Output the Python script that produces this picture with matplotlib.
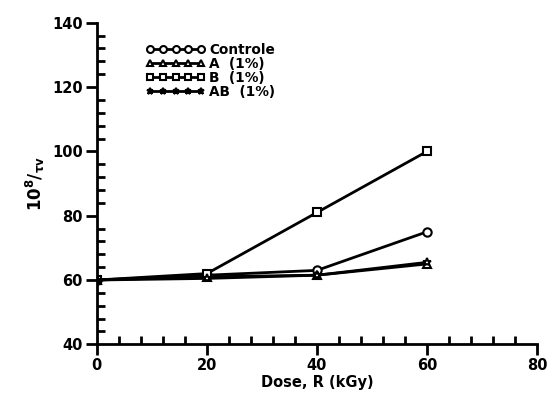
import numpy as np
import matplotlib.pyplot as plt
from matplotlib.ticker import MultipleLocator

plt.rcParams['font.family'] = ['DejaVu Sans']
plt.rcParams['font.weight'] = 'bold'

dose = [0, 20, 40, 60]
controle = [60, 61.5, 63, 75]
amostra_a = [60, 61, 61.5, 65]
amostra_b = [60, 62, 81, 100]
amostra_ab = [60, 60.5, 61.5, 65.5]

series = [
    ("Controle", controle, "o"),
    ("A  (1%)", amostra_a, "^"),
    ("B  (1%)", amostra_b, "s"),
    ("AB  (1%)", amostra_ab, "*"),
]

fig = plt.figure(figsize=(5.47, 3.99), dpi=100)
ax = fig.add_axes([0.177, 0.137, 0.805, 0.806])

for nome, vals, mk in series:
    ax.plot(dose, vals, color="black", lw=2, marker=mk, markersize=6,
            markerfacecolor="white", markeredgecolor="black", markeredgewidth=1.5,
            label=nome)

ax.set_xlim(0, 80)
ax.set_ylim(40, 140)
ax.xaxis.set_major_locator(MultipleLocator(20))
ax.xaxis.set_minor_locator(MultipleLocator(4))
ax.yaxis.set_major_locator(MultipleLocator(20))
ax.yaxis.set_minor_locator(MultipleLocator(4))

ax.spines['top'].set_visible(False)
ax.spines['right'].set_visible(False)
ax.spines['left'].set_linewidth(2)
ax.spines['bottom'].set_linewidth(2)

ax.tick_params(which='major', direction='out', length=8, width=2, labelsize=10.5, pad=2)
ax.tick_params(which='minor', direction='in', length=6, width=2)
for lab in ax.get_xticklabels() + ax.get_yticklabels():
    lab.set_fontweight('bold')

ax.set_xlabel("Dose, R (kGy)", fontsize=10.5, fontweight='bold', labelpad=1)
ax.set_ylabel(r"$\mathbf{10^{8}/_{\tau v}}$", fontsize=12, labelpad=4)

leg = ax.legend(loc='upper left', bbox_to_anchor=(0.10, 0.955), frameon=False,
                numpoints=5, handlelength=4.3, handletextpad=0.3,
                labelspacing=0.0, borderaxespad=0, fontsize=9.8)
for t in leg.get_texts():
    t.set_fontweight('bold')
for h in leg.legend_handles:
    h.set_markersize(5)

plt.savefig("out.png", dpi=100)
